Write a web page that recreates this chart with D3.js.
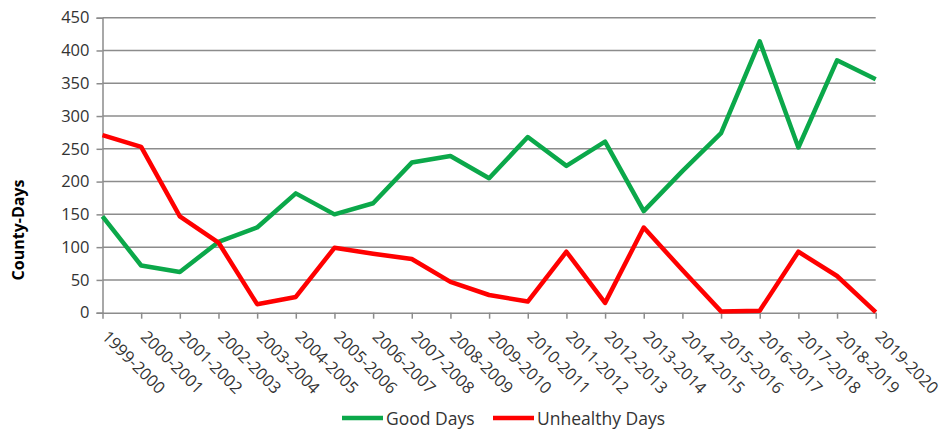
<html>
  <head>
    <meta charset="utf-8">
    <title>County-Days</title>
  </head>
  <body style="margin:0;background:#fff">
    <script src="https://d3js.org/d3.v7.min.js"></script>
    <script>
      // 数据
      var seasons = ["1999-2000", "2000-2001", "2001-2002", "2002-2003", "2003-2004", "2004-2005",
        "2005-2006", "2006-2007", "2007-2008", "2008-2009", "2009-2010", "2010-2011", "2011-2012",
        "2012-2013", "2013-2014", "2014-2015", "2015-2016", "2016-2017", "2017-2018", "2018-2019", "2019-2020"];
      var goodDays = [147, 72, 62, 108, 130, 182, 150, 167, 229, 239, 205, 268, 224, 261, 155, 216, 274, 414, 252, 385, 356];
      var unhealthyDays = [271, 253, 147, 107, 13, 24, 99, 90, 82, 47, 27, 17, 93, 15, 130, 65, 2, 3, 93, 56, 1];
      var yTicks = [0, 50, 100, 150, 200, 250, 300, 350, 400, 450];

      var width = 952, height = 432;
      var plotLeft = 102.5, plotRight = 875.7, plotTop = 17.7, plotBottom = 312.7;
      var font = "'Open Sans', sans-serif";

      var svg = d3.select("body").append("svg")
        .attr("width", width)
        .attr("height", height);

      var x = d3.scalePoint().domain(seasons).range([plotLeft, plotRight]);
      var y = d3.scaleLinear().domain([0, 450]).range([plotBottom, plotTop]);

      // 网格线
      svg.append("g")
        .selectAll("line")
        .data(yTicks.slice(1))
        .enter().append("line")
        .attr("x1", plotLeft).attr("x2", plotRight)
        .attr("y1", function(d) { return y(d); })
        .attr("y2", function(d) { return y(d); })
        .attr("stroke", "#8c8c8c")
        .attr("stroke-width", 1.5);

      // y轴
      var yAxis = svg.append("g")
        .attr("transform", "translate(" + plotLeft + ",0)")
        .call(d3.axisLeft(y).tickValues(yTicks).tickSize(6).tickPadding(7));
      yAxis.select(".domain").attr("stroke", "#8c8c8c").attr("stroke-width", 1.5);
      yAxis.selectAll(".tick line").attr("stroke", "#8c8c8c").attr("stroke-width", 1.5);
      yAxis.selectAll("text")
        .attr("font-family", font).attr("font-size", 16.5).attr("fill", "#333");

      // x轴
      var xAxis = svg.append("g")
        .attr("transform", "translate(0," + plotBottom + ")")
        .call(d3.axisBottom(x).tickSize(6).tickSizeOuter(0).tickFormat(""));
      xAxis.select(".domain").attr("stroke", "#8c8c8c").attr("stroke-width", 1.5);
      xAxis.selectAll(".tick line").attr("stroke", "#8c8c8c").attr("stroke-width", 1.5);
      xAxis.selectAll(".tick")
        .append("text")
        .attr("transform", "translate(-2,25) rotate(45)")
        .attr("text-anchor", "start")
        .attr("font-family", font)
        .attr("font-size", 16.5)
        .attr("fill", "#333")
        .text(function(d) { return d; });

      // y轴标题
      svg.append("text")
        .attr("transform", "translate(24,230) rotate(-90)")
        .attr("text-anchor", "middle")
        .attr("font-family", font)
        .attr("font-size", 16)
        .attr("font-weight", "bold")
        .attr("fill", "#000")
        .text("County-Days");

      var line = d3.line()
        .x(function(d, i) { return x(seasons[i]); })
        .y(function(d) { return y(d); });

      var series = [
        { name: "Good Days", values: goodDays, color: "#0ba84a" },
        { name: "Unhealthy Days", values: unhealthyDays, color: "#ff0000" }
      ];

      svg.selectAll("path.series")
        .data(series)
        .enter().append("path")
        .attr("class", "series")
        .attr("fill", "none")
        .attr("stroke", function(d) { return d.color; })
        .attr("stroke-width", 4.5)
        .attr("stroke-linejoin", "round")
        .attr("d", function(d) { return line(d.values); });

      // 图例
      var legendX = [342, 493];
      var legend = svg.selectAll("g.legend")
        .data(series)
        .enter().append("g")
        .attr("class", "legend")
        .attr("transform", function(d, i) { return "translate(" + legendX[i] + ",418)"; });
      legend.append("line")
        .attr("x1", 0).attr("x2", 41)
        .attr("stroke", function(d) { return d.color; })
        .attr("stroke-width", 4.5);
      legend.append("text")
        .attr("x", 44).attr("y", 6.5)
        .attr("font-family", font)
        .attr("font-size", 17.5)
        .attr("fill", "#333")
        .text(function(d) { return d.name; });
    </script>
  </body>
</html>
